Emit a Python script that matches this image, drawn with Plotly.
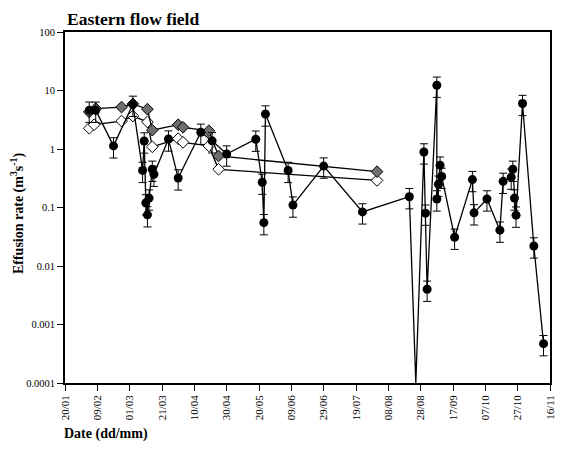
import plotly.graph_objects as go

# ---------------- data ----------------
# Effusion rate (filled circles), listed in the order the line joins them
eff_dates = [
    "2001-02-04", "2001-02-08", "2001-02-19", "2001-03-03", "2001-03-09",
    "2001-03-10", "2001-03-11", "2001-03-12", "2001-03-13", "2001-03-15",
    "2001-03-16", "2001-03-25", "2001-03-31", "2001-04-14", "2001-04-21",
    "2001-04-30", "2001-05-18", "2001-05-22", "2001-05-23", "2001-05-24",
    "2001-06-07", "2001-06-10", "2001-06-29", "2001-07-23", "2001-08-21",
    "2001-08-25", "2001-08-30", "2001-08-31", "2001-09-01", "2001-09-07",
    "2001-09-07", "2001-09-09", "2001-09-08", "2001-09-10", "2001-09-18",
    "2001-09-29", "2001-09-30", "2001-10-08", "2001-10-16", "2001-10-18",
    "2001-10-23", "2001-10-24", "2001-10-25", "2001-10-26", "2001-10-30",
    "2001-11-06", "2001-11-12",
]
eff_values = [
    4.6, 4.6, 1.13, 5.8, 0.43,
    1.37, 0.12, 0.075, 0.145, 0.45,
    0.37, 1.48, 0.32, 1.93, 1.38,
    0.82, 1.47, 0.27, 0.055, 3.96,
    0.43, 0.11, 0.51, 0.084, 0.153,
    0.0001, 0.89, 0.08, 0.004, 12.3,
    0.14, 0.53, 0.25, 0.34, 0.031,
    0.30, 0.081, 0.14, 0.041, 0.28,
    0.33, 0.45, 0.145, 0.074, 6.0,
    0.022, 0.00047,
]

# Hatched-diamond series
hd_dates = ["2001-02-04", "2001-02-08", "2001-02-24", "2001-03-03", "2001-03-12",
            "2001-03-15", "2001-03-31", "2001-04-03", "2001-04-19", "2001-04-25",
            "2001-08-01"]
hd_values = [4.3, 4.9, 5.2, 5.9, 4.8, 2.1, 2.6, 2.35, 2.05, 0.76, 0.41]

# Open-diamond series
od_dates = ["2001-02-04", "2001-02-07", "2001-02-24", "2001-03-03", "2001-03-12",
            "2001-03-15", "2001-03-31", "2001-04-03", "2001-04-19", "2001-04-25",
            "2001-08-01"]
od_values = [2.26, 2.6, 3.0, 3.66, 2.9, 1.09, 1.5, 1.3, 1.13, 0.45, 0.29]

y_tickvals = [0.0001, 0.001, 0.01, 0.1, 1, 10, 100]
y_ticktext = ["0.0001", "0.001", "0.01", "0.1", "1", "10", "100"]

# ---------------- figure ----------------
SERIF = "Liberation Serif, Times New Roman, serif"
fig = go.Figure()

fig.add_trace(go.Scatter(
    x=od_dates, y=od_values, mode="lines+markers",
    line=dict(color="black", width=1.3),
    marker=dict(symbol="diamond", size=9, color="white",
                line=dict(color="black", width=1)),
    showlegend=False))

fig.add_trace(go.Scatter(
    x=hd_dates, y=hd_values, mode="lines+markers",
    line=dict(color="black", width=1.3),
    marker=dict(symbol="diamond", size=9, color="#6e6e6e",
                line=dict(color="black", width=1)),
    showlegend=False))

# line through all effusion points (incl. the one at the axis floor)
fig.add_trace(go.Scatter(
    x=eff_dates, y=eff_values, mode="lines",
    line=dict(color="black", width=1.3),
    showlegend=False))

# markers with error bars (points above the axis floor)
mk = [(d, v) for d, v in zip(eff_dates, eff_values) if v > 0.0001]
fig.add_trace(go.Scatter(
    x=[d for d, _ in mk], y=[v for _, v in mk], mode="markers",
    marker=dict(symbol="circle", size=9, color="black"),
    error_y=dict(type="percent", value=38, color="black", thickness=1, width=4),
    showlegend=False))

fig.update_layout(
    width=561, height=468,
    margin=dict(l=65, r=5, t=32, b=85),
    paper_bgcolor="white", plot_bgcolor="white",
    font=dict(family=SERIF, color="black"),
    title=dict(text="<b>Eastern flow field</b>", xref="container", yref="container",
               x=67 / 561, xanchor="left", y=1 - 19 / 468, yanchor="middle",
               font=dict(family=SERIF, size=17.5, color="black")),
    xaxis=dict(
        type="date",
        range=["2001-01-20", "2001-11-16"],
        tick0="2001-01-20", dtick=20 * 86400000,
        tickformat="%d/%m", tickangle=-90,
        ticks="outside", ticklen=6, tickwidth=1, tickcolor="black",
        showline=True, linecolor="black", linewidth=1.5, mirror=True,
        showgrid=False, zeroline=False,
        tickfont=dict(family=SERIF, size=11, color="black"),
    ),
    yaxis=dict(
        type="log", range=[-4, 2],
        tickvals=y_tickvals, ticktext=y_ticktext,
        ticks="outside", ticklen=6, tickwidth=1, tickcolor="black",
        showline=True, linecolor="black", linewidth=1.8, mirror=True,
        showgrid=False, zeroline=False,
        tickfont=dict(family=SERIF, size=10.5, color="black"),
    ),
    annotations=[
        dict(text="<b>Effusion rate (m<sup>3</sup>s<sup>-1</sup>)</b>",
             xref="paper", yref="paper", x=(17 - 65) / 491, y=0.483,
             xanchor="center", yanchor="middle", textangle=-90, showarrow=False,
             font=dict(family=SERIF, size=14, color="black")),
        dict(text="<b>Date (dd/mm)</b>",
             xref="paper", yref="paper", x=(62 - 65) / 491, y=-51 / 351,
             xanchor="left", yanchor="middle", showarrow=False,
             font=dict(family=SERIF, size=14, color="black")),
    ],
)

fig.write_html("out.html")
